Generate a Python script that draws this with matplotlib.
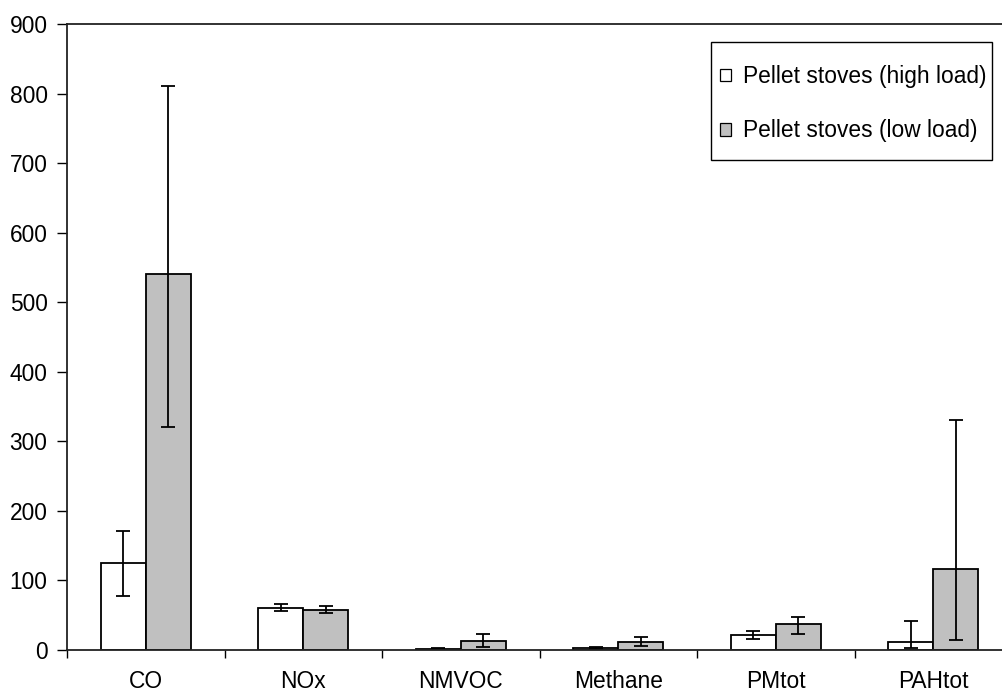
import matplotlib
matplotlib.use("Agg")
import matplotlib.pyplot as plt
from matplotlib.patches import Rectangle
import numpy as np

plt.rcParams['font.family'] = ['Liberation Sans', 'DejaVu Sans']

# emission categories and values
categories = ['CO', 'NOx', 'NMVOC', 'Methane', 'PMtot', 'PAHtot']
high_load = [125, 61, 2, 3.5, 21, 11]
high_lo = [78, 56, 1, 2, 16, 3]      # lower end of error bar
high_hi = [171, 66, 3, 5, 27, 41]    # upper end of error bar
low_load = [541, 58, 13, 12, 37, 117]
low_lo = [321, 53, 4, 6, 23, 14]
low_hi = [811, 63, 23, 19, 47, 331]
yticks = [0, 100, 200, 300, 400, 500, 600, 700, 800, 900]

W, H = 1002, 693
fig = plt.figure(figsize=(W / 100, H / 100), dpi=100)
ax = fig.add_axes([67 / W, 43 / H, 945 / W, 626 / H])

x = np.arange(len(categories))
w = 0.286

hi = np.array(high_load)
lo = np.array(low_load)
err_h = [hi - np.array(high_lo), np.array(high_hi) - hi]
err_l = [lo - np.array(low_lo), np.array(low_hi) - lo]

ekw = dict(ecolor='black', elinewidth=1.3, capsize=5, capthick=1.3)
ax.bar(x - w / 2, hi, w, color='white', edgecolor='black', linewidth=1.3,
       yerr=err_h, error_kw=ekw, label='Pellet stoves (high load)')
ax.bar(x + w / 2, lo, w, color='#C0C0C0', edgecolor='black', linewidth=1.3,
       yerr=err_l, error_kw=ekw, label='Pellet stoves (low load)')

ax.set_xlim(-0.5, len(categories) - 0.5)
ax.set_ylim(0, 900)
ax.set_yticks(yticks)
ax.set_xticks(x)
ax.set_xticklabels(categories)
ax.set_xticks(np.arange(len(categories) + 1) - 0.5, minor=True)
ax.tick_params(axis='x', which='major', length=0, pad=14.5, labelsize=16.4)
ax.tick_params(axis='x', which='minor', length=6, width=1, direction='out')
ax.tick_params(axis='y', length=7, width=1, direction='out', labelsize=16.4, pad=7)

for s in ['left', 'bottom', 'top']:
    ax.spines[s].set_color('#222222')
    ax.spines[s].set_linewidth(1.3)
ax.spines['right'].set_visible(False)

# legend frame drawn by hand so the padding matches the original
frame = Rectangle((711 / W, 1 - 160 / H), 281 / W, 118 / H,
                  transform=fig.transFigure, facecolor='white',
                  edgecolor='black', linewidth=1.0, zorder=4.5, clip_on=False)
ax.add_artist(frame)
leg = ax.legend(loc='upper left', bbox_to_anchor=(720 / W, 1 - 65 / H),
                bbox_transform=fig.transFigure, fontsize=16.4, frameon=False,
                handlelength=0.47, handleheight=0.47, handletextpad=0.56,
                labelspacing=1.38, borderpad=0, borderaxespad=0)
leg.set_zorder(6)
for h in leg.legend_handles:
    h.set_linewidth(0.9)

fig.savefig('out.png', dpi=100)
